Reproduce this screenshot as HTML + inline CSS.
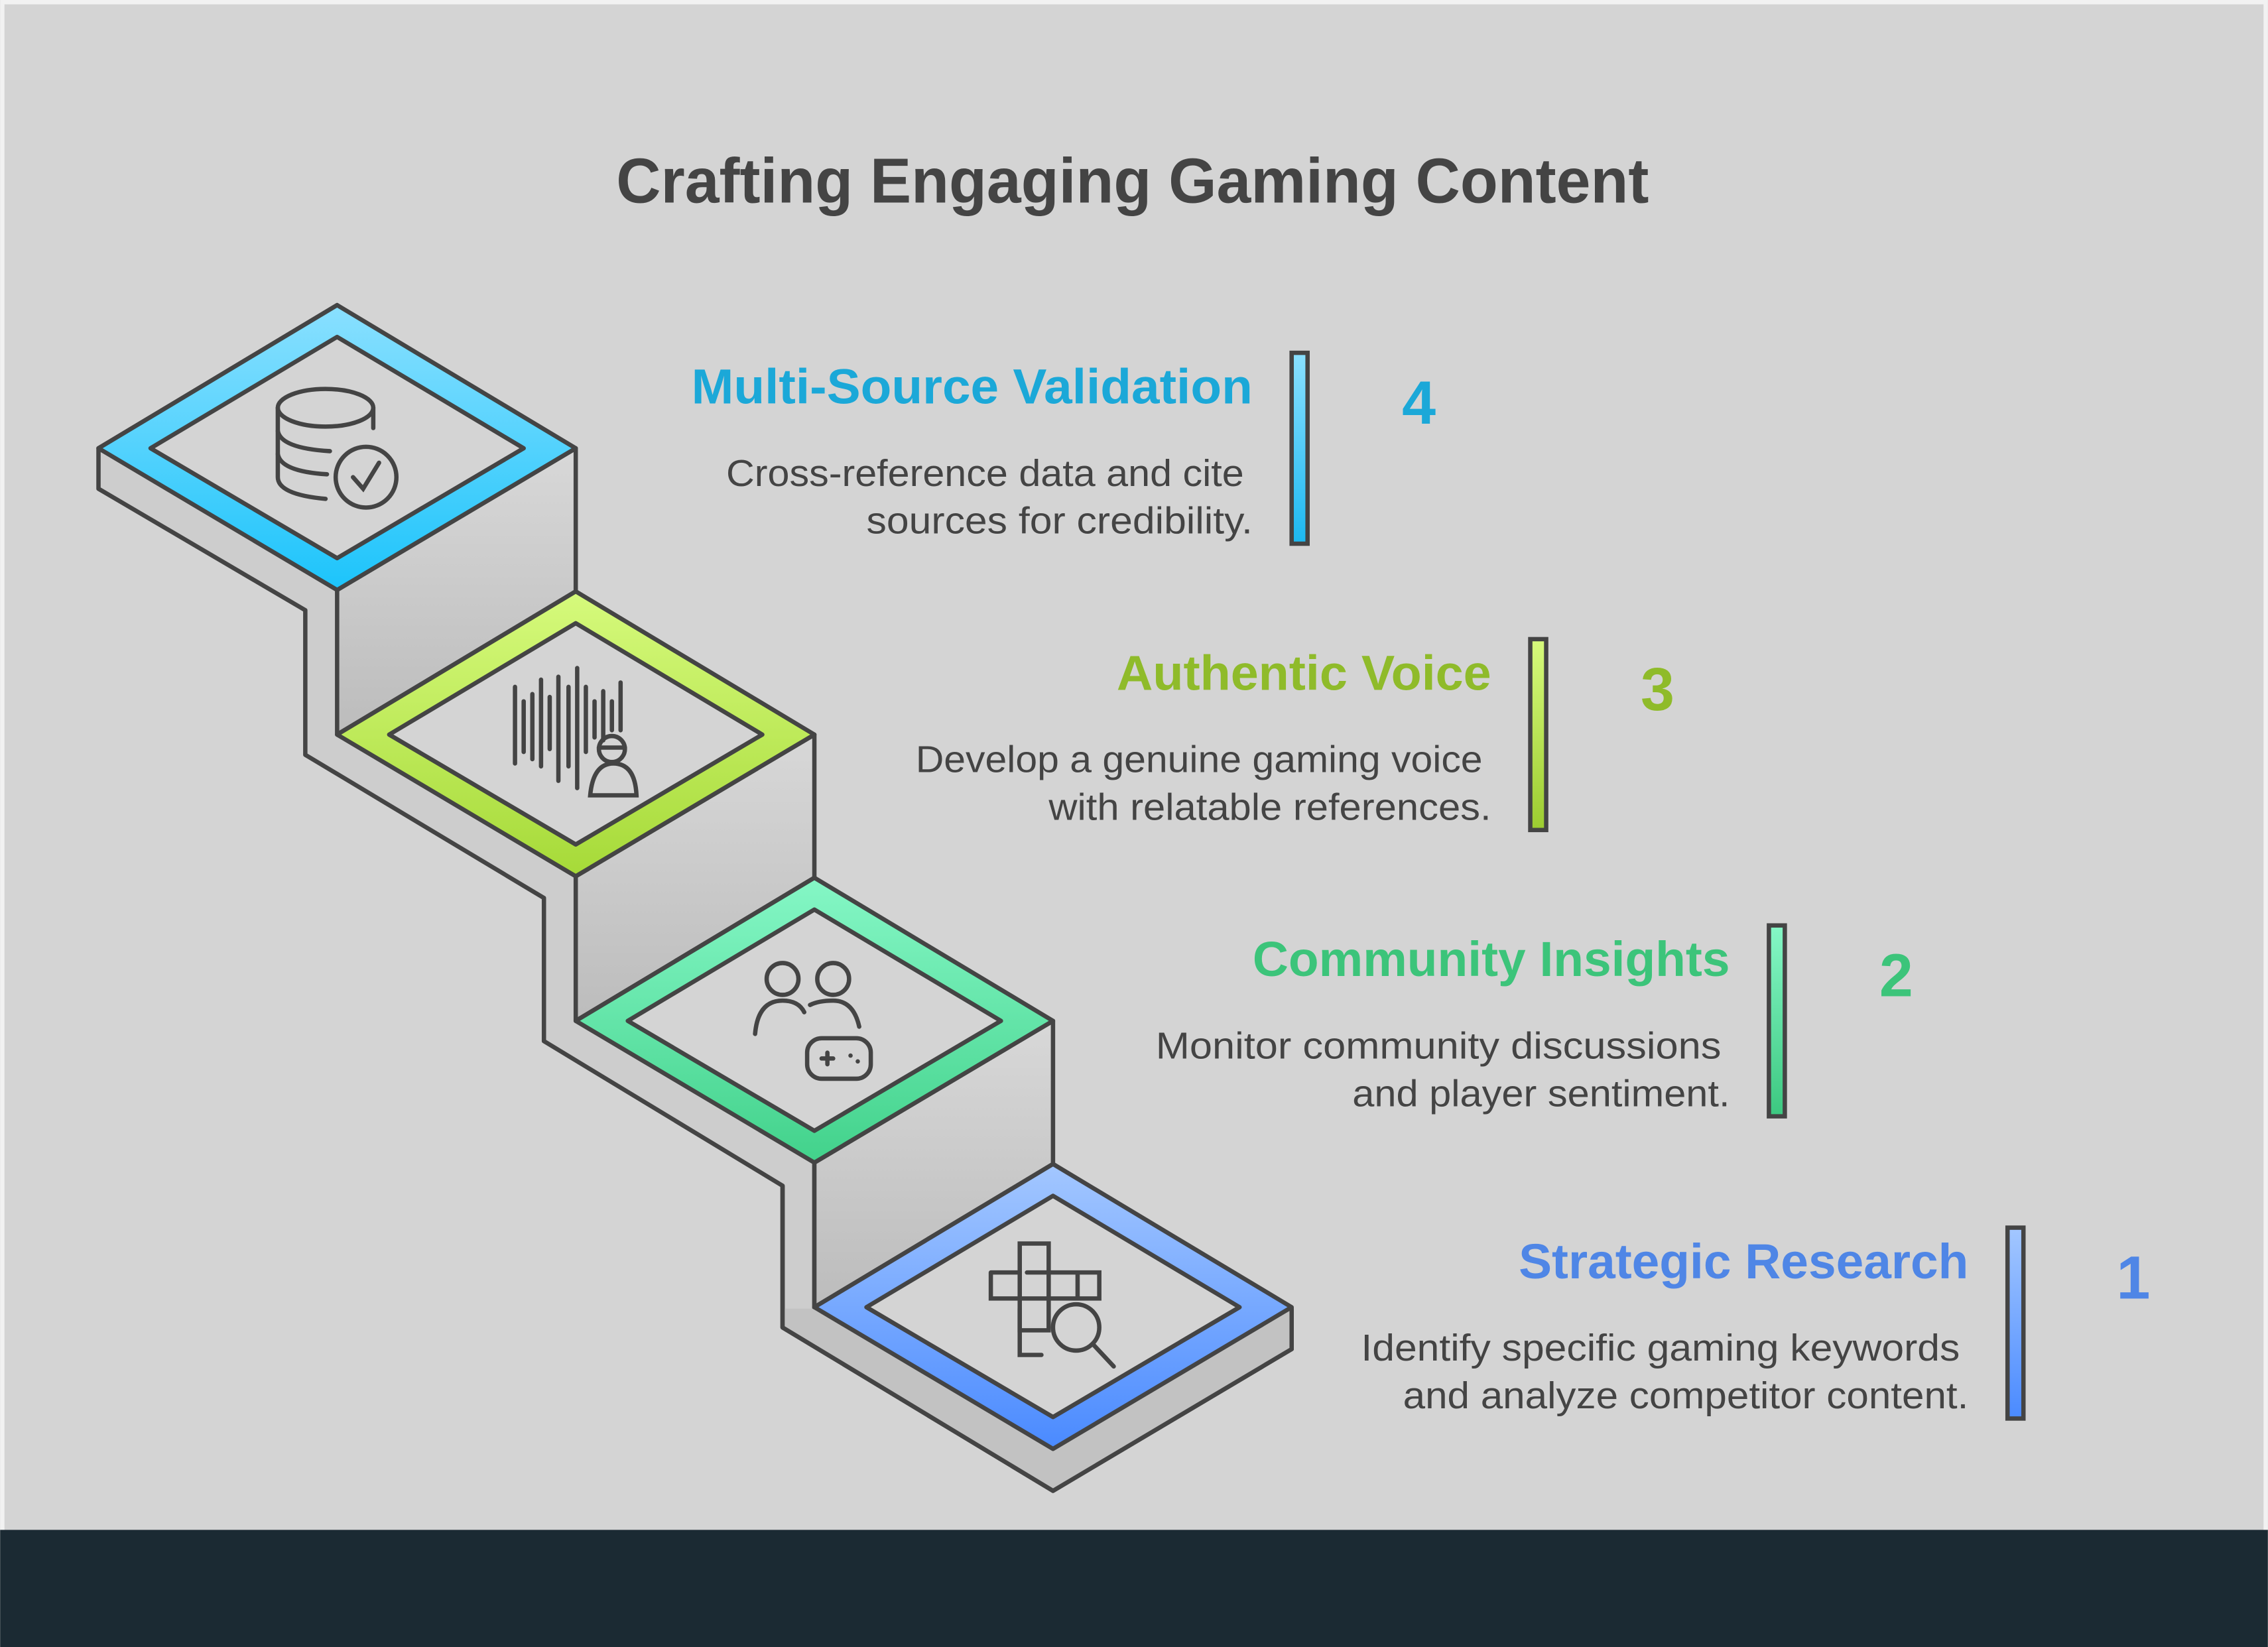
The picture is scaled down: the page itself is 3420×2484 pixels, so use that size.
<!DOCTYPE html>
<html><head><meta charset="utf-8"><style>
html,body{margin:0;padding:0;background:#d4d4d4;}
svg{display:block;}
text{font-family:"Liberation Sans",sans-serif;}
</style></head><body>
<svg width="3420" height="2484" viewBox="0 0 1568 1139" xmlns="http://www.w3.org/2000/svg">
<defs>
<linearGradient id="g4" x1="0" y1="0" x2="0" y2="1"><stop offset="0" stop-color="#8ae0ff"/><stop offset="1" stop-color="#1cc4fb"/></linearGradient>
<linearGradient id="g3" x1="0" y1="0" x2="0" y2="1"><stop offset="0" stop-color="#d6fa7c"/><stop offset="1" stop-color="#a6da38"/></linearGradient>
<linearGradient id="g2" x1="0" y1="0" x2="0" y2="1"><stop offset="0" stop-color="#85f7c6"/><stop offset="1" stop-color="#42d28b"/></linearGradient>
<linearGradient id="g1" x1="0" y1="0" x2="0" y2="1"><stop offset="0" stop-color="#a3c7ff"/><stop offset="1" stop-color="#4a8aff"/></linearGradient>
<linearGradient id="gr" x1="0" y1="0" x2="0" y2="1"><stop offset="0" stop-color="#d8d8d8"/><stop offset="1" stop-color="#bcbcbc"/></linearGradient>
<linearGradient id="b4" x1="0" y1="0" x2="0" y2="1"><stop offset="0" stop-color="#8ae0ff"/><stop offset="1" stop-color="#1cb8f0"/></linearGradient>
<linearGradient id="b3" x1="0" y1="0" x2="0" y2="1"><stop offset="0" stop-color="#d6fa7c"/><stop offset="1" stop-color="#9ccc30"/></linearGradient>
<linearGradient id="b2" x1="0" y1="0" x2="0" y2="1"><stop offset="0" stop-color="#85f7c6"/><stop offset="1" stop-color="#3cc880"/></linearGradient>
<linearGradient id="b1" x1="0" y1="0" x2="0" y2="1"><stop offset="0" stop-color="#a3c7ff"/><stop offset="1" stop-color="#4a8aff"/></linearGradient>
</defs>
<rect x="0" y="0" width="1568" height="1139" fill="#f2f2f2"/>
<rect x="3" y="3" width="1562" height="1060" fill="#d4d4d4"/>
<rect x="0" y="1058" width="1568" height="81" fill="#1b2a33"/>

<text x="426" y="140" textLength="714" lengthAdjust="spacingAndGlyphs" font-size="44" font-weight="bold" fill="#444">Crafting Engaging Gaming Content</text>

<g stroke="#444" stroke-width="3" stroke-linejoin="round">
<polygon points="68,310 68,338 211,422 211,522 376,621 376,720 541,820 541,918 728,1031 893,933 893,905 728,805 563,905 563,607 398,409 233,211" fill="#cdcdcd"/>
<polygon points="563,905 728,1003 893,905 893,933 728,1031 541,918 541,905" fill="#c2c2c2" stroke="none"/>
<polyline points="541,820 541,918 728,1031 893,933 893,905" fill="none"/>
<polygon points="233,408 398,310 398,409 233,508" fill="url(#gr)"/>
<polygon points="398,606 563,508 563,607 398,706" fill="url(#gr)"/>
<polygon points="563,804 728,706 728,805 563,904" fill="url(#gr)"/>

<polygon points="233,211 398,310 233,408 68,310" fill="url(#g4)"/>
<polygon points="233,233 362,310 233,386 104,310" fill="#d4d4d4"/>
<polygon points="398,409 563,508 398,606 233,508" fill="url(#g3)"/>
<polygon points="398,431 527,508 398,584 269,508" fill="#d4d4d4"/>
<polygon points="563,607 728,706 563,804 398,706" fill="url(#g2)"/>
<polygon points="563,629 692,706 563,782 434,706" fill="#d4d4d4"/>
<polygon points="728,805 893,904 728,1002 563,904" fill="url(#g1)"/>
<polygon points="728,827 857,904 728,980 599,904" fill="#d4d4d4"/>
</g>

<g fill="none" stroke="#444" stroke-width="3" stroke-linecap="round">
<ellipse cx="225" cy="282" rx="33" ry="13"/>
<path d="M192 282 V330 Q192 342 225 345"/>
<path d="M258 282 V296"/>
<path d="M192 298 Q194 310 228 312"/>
<path d="M192 314 Q194 326 226 328"/>
<circle cx="253" cy="330" r="21"/>
<path d="M244 330 L251 338 L262 320"/>

<path d="M356 475V528 M362 485V520 M368 480V525 M374 470V530 M380 482V518 M386 468V540 M393 475V530 M399 462V545 M405 475V520 M411 485V510 M417 478V512 M423 485V505 M429 472V505"/>
<circle cx="423" cy="518" r="9"/>
<path d="M414 517 H432"/>
<path d="M408 550 Q410 528 424 528 Q439 528 440 550 Z"/>

<circle cx="541" cy="677" r="11"/><circle cx="576" cy="677" r="11"/>
<path d="M522 715 Q524 692 541 692 Q552 692 556 700"/>
<path d="M560 695 Q566 692 576 692 Q590 692 594 710"/>
<rect x="558" y="718" width="44" height="28" rx="10"/>
<path d="M568 732h8 M572 728v8 M588 730h0 M593 734h0"/>

<path d="M685 880h20v-20h20v60h-20v-40 M685 880v18h75v-18h-50 M745 880v18"/>
<path d="M705 905v32h15"/>
<circle cx="744" cy="918" r="16"/>
<path d="M756 930 L770 945"/>
</g>

<g lengthAdjust="spacingAndGlyphs">
<text x="478" y="279" textLength="388" lengthAdjust="spacingAndGlyphs" font-size="34" font-weight="bold" fill="#1ba8d8">Multi-Source Validation</text>
<text x="502" y="336" textLength="358" lengthAdjust="spacingAndGlyphs" font-size="26" fill="#444">Cross-reference data and cite</text>
<text x="599" y="369" textLength="267" lengthAdjust="spacingAndGlyphs" font-size="26" fill="#444">sources for credibility.</text>

<text x="772" y="477" textLength="259" lengthAdjust="spacingAndGlyphs" font-size="34" font-weight="bold" fill="#8fbb2a">Authentic Voice</text>
<text x="633" y="534" textLength="392" lengthAdjust="spacingAndGlyphs" font-size="26" fill="#444">Develop a genuine gaming voice</text>
<text x="725" y="567" textLength="306" lengthAdjust="spacingAndGlyphs" font-size="26" fill="#444">with relatable references.</text>

<text x="866" y="675" textLength="330" lengthAdjust="spacingAndGlyphs" font-size="34" font-weight="bold" fill="#3cc47a">Community Insights</text>
<text x="799" y="732" textLength="391" lengthAdjust="spacingAndGlyphs" font-size="26" fill="#444">Monitor community discussions</text>
<text x="935" y="765" textLength="261" lengthAdjust="spacingAndGlyphs" font-size="26" fill="#444">and player sentiment.</text>

<text x="1050" y="884" textLength="311" lengthAdjust="spacingAndGlyphs" font-size="34" font-weight="bold" fill="#4f86e6">Strategic Research</text>
<text x="941" y="941" textLength="414" lengthAdjust="spacingAndGlyphs" font-size="26" fill="#444">Identify specific gaming keywords</text>
<text x="970" y="974" textLength="391" lengthAdjust="spacingAndGlyphs" font-size="26" fill="#444">and analyze competitor content.</text>
</g>

<g stroke="#444" stroke-width="3">
<rect x="893" y="244" width="11" height="132" fill="url(#b4)"/>
<rect x="1058" y="442" width="11" height="132" fill="url(#b3)"/>
<rect x="1223" y="640" width="11" height="132" fill="url(#b2)"/>
<rect x="1388" y="849" width="11" height="132" fill="url(#b1)"/>
</g>

<g text-anchor="middle" font-size="42" font-weight="bold">
<text x="981" y="293" fill="#1ba8d8">4</text>
<text x="1146" y="491" fill="#8fbb2a">3</text>
<text x="1311" y="689" fill="#3cc47a">2</text>
<text x="1475" y="898" fill="#4f86e6">1</text>
</g>
</svg>
</body></html>
